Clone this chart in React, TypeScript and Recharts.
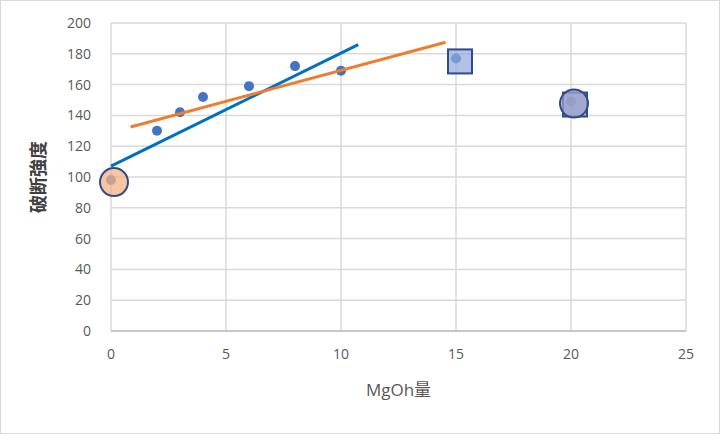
import * as React from "react";
import {
  CartesianGrid,
  ComposedChart,
  Label,
  Scatter,
  XAxis,
  YAxis,
} from "recharts";

// measured points: MgOh amount vs breaking strength
const mgoh = [0, 2, 3, 4, 6, 8, 10, 15, 20];
const strength = [98, 130, 142, 152, 159, 172, 169, 177, 149];

// trendlines (endpoints as drawn)
const blueTrendX = [0, 10.75];
const blueTrendY = [107, 186];
const orangeTrendX = [0.85, 14.55];
const orangeTrendY = [132.5, 187.5];

// highlighted markers
const circleX = [0, 20];
const circleY = [98, 149];
const circleFill = ["#f4b183", "#9f9fc8"];
const squareX = [15, 20];
const squareY = [177, 149];

const xTicks = [0, 5, 10, 15, 20, 25];
const yTicks = [0, 20, 40, 60, 80, 100, 120, 140, 160, 180, 200];

const points = mgoh.map((x, i) => ({ x, y: strength[i] }));
const blueTrend = blueTrendX.map((x, i) => ({ x, y: blueTrendY[i] }));
const orangeTrend = orangeTrendX.map((x, i) => ({ x, y: orangeTrendY[i] }));
const circles = circleX.map((x, i) => ({ x, y: circleY[i], fill: circleFill[i] }));
const squares = squareX.map((x, i) => ({ x, y: squareY[i] }));

const font = "'Open Sans', 'Noto Sans CJK JP', sans-serif";

const Dot = (props: any) => (
  <circle cx={props.cx} cy={props.cy} r={5} fill="#4472c4" />
);

// the hand-drawn markers sit a little right of and below their points
const Ring = (props: any) => (
  <circle
    cx={props.cx + 3}
    cy={props.cy + 2}
    r={14}
    fill={props.payload.fill}
    fillOpacity={0.75}
    stroke="#2f4b8a"
    strokeWidth={2}
  />
);

const Box = (props: any) => (
  <rect
    x={props.cx - 8}
    y={props.cy - 9}
    width={24}
    height={24}
    fill="#8faadc"
    fillOpacity={0.7}
    stroke="#2f4b8a"
    strokeWidth={2}
  />
);

const Nothing = () => null;

export default function App() {
  return (
    <div
      style={{
        position: "absolute",
        left: 0,
        top: 0,
        width: 720,
        height: 434,
        border: "1px solid #d9d9d9",
        boxSizing: "border-box",
        background: "#fff",
      }}
    >
      <ComposedChart
        width={718}
        height={432}
        margin={{ top: 22, right: 33, bottom: 42, left: 9 }}
        style={{ fontFamily: font }}
      >
        <CartesianGrid stroke="#d9d9d9" strokeWidth={1.5} />
        <XAxis
          type="number"
          dataKey="x"
          domain={[0, 25]}
          ticks={xTicks}
          height={60}
          tickLine={false}
          axisLine={{ stroke: "#bfbfbf", strokeWidth: 1.5 }}
          tick={{ fill: "#595959", fontSize: 14 }}
          tickMargin={12}
        >
          <Label
            value="MgOh量"
            position="insideBottom"
            offset={-5}
            style={{ fill: "#595959", fontSize: 17, fontFamily: font }}
          />
        </XAxis>
        <YAxis
          type="number"
          dataKey="y"
          domain={[0, 200]}
          ticks={yTicks}
          width={101}
          tickLine={false}
          axisLine={false}
          tick={{ fill: "#595959", fontSize: 14 }}
          tickMargin={14}
        >
          <Label
            value="破断強度"
            angle={-90}
            position="insideLeft"
            offset={29}
            style={{
              fill: "#404040",
              fontSize: 18,
              fontWeight: "bold",
              textAnchor: "middle",
              fontFamily: font,
            }}
          />
        </YAxis>
        <Scatter data={points} shape={Dot} isAnimationActive={false} />
        <Scatter
          data={blueTrend}
          line={{ stroke: "#0070c0", strokeWidth: 3 }}
          shape={Nothing}
          isAnimationActive={false}
        />
        <Scatter
          data={orangeTrend}
          line={{ stroke: "#ed7d31", strokeWidth: 3 }}
          shape={Nothing}
          isAnimationActive={false}
        />
        <Scatter data={squares} shape={Box} isAnimationActive={false} />
        <Scatter data={circles} shape={Ring} isAnimationActive={false} />
      </ComposedChart>
    </div>
  );
}
